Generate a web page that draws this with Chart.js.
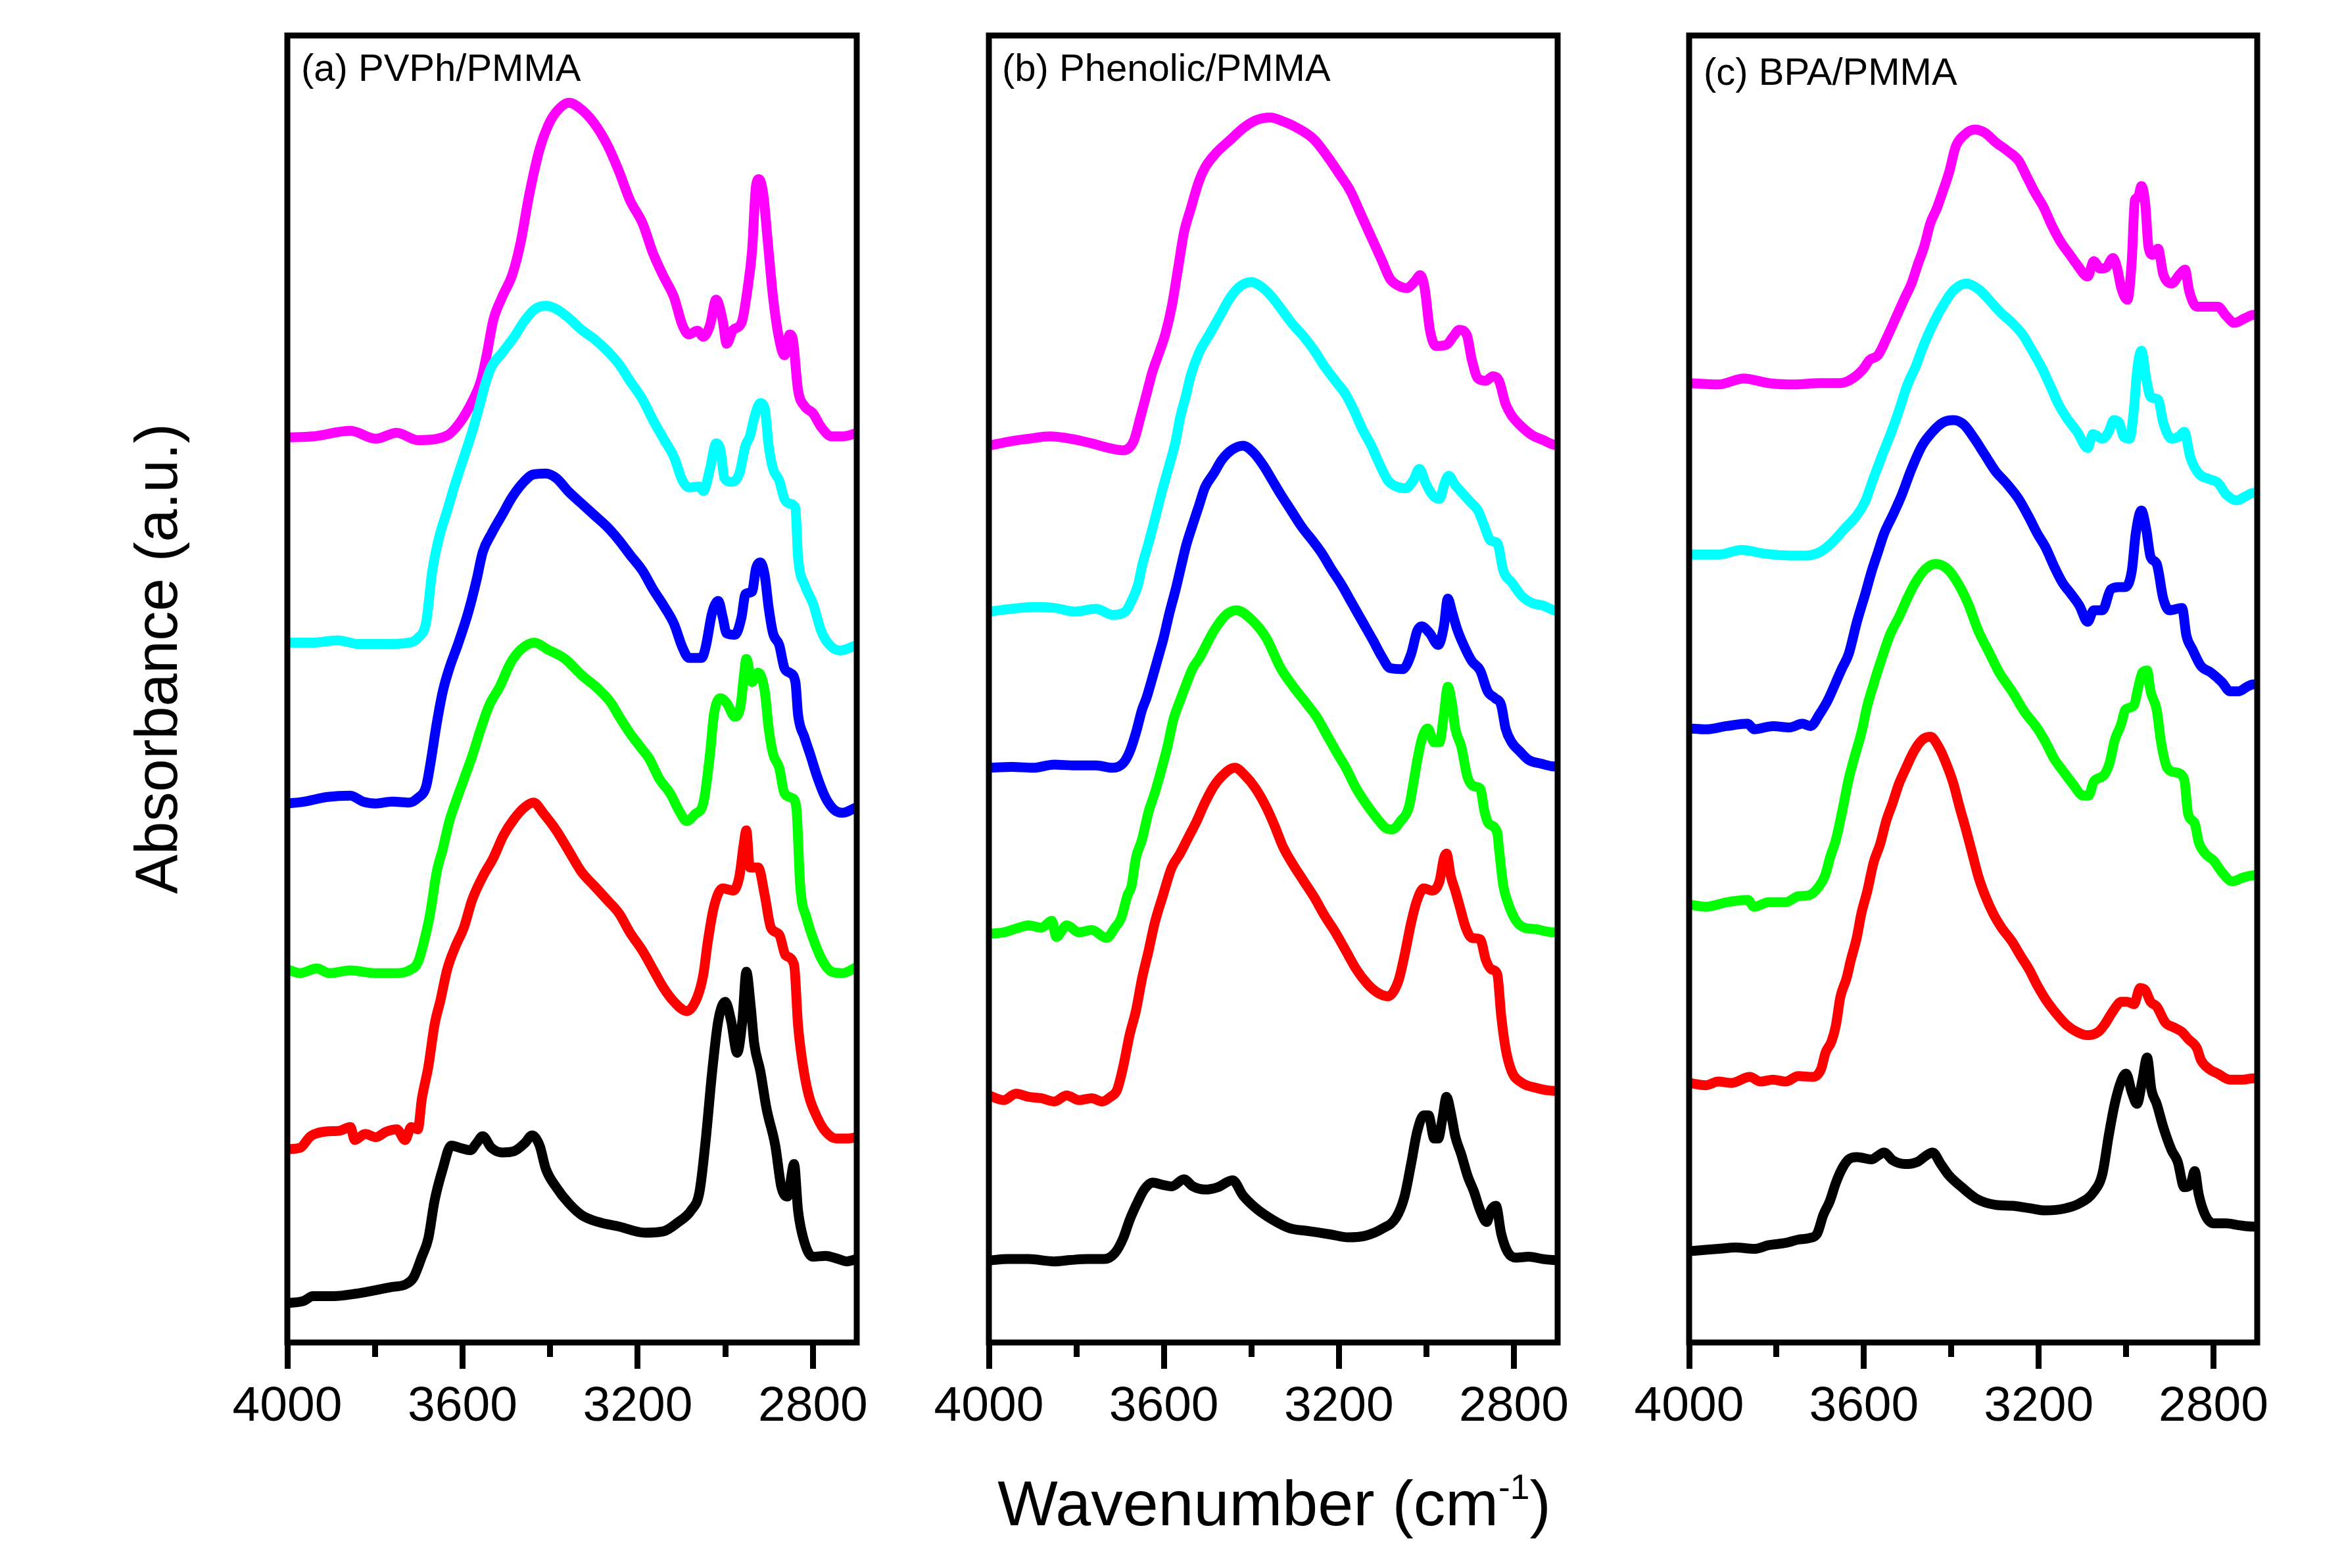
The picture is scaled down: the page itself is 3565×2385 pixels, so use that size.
<!DOCTYPE html>
<html>
<head>
<meta charset="utf-8">
<title>FTIR spectra</title>
<script src="https://cdn.jsdelivr.net/npm/chart.js@4.4.1/dist/chart.umd.min.js"></script>
<style>
  body { margin: 0; background: #fff; width: 3565px; height: 2385px; position: relative; overflow: hidden;
         font-family: 'Liberation Sans', Arial, sans-serif; color: #000; }
  .panel { position: absolute; }
  .plabel { position: absolute; font-size: 58px; line-height: 1; white-space: nowrap; }
  #ytitle { position: absolute; left: 238px; top: 1002px; font-size: 90px; line-height: 1; white-space: nowrap;
            transform: translate(-50%, -50%) rotate(-90deg); }
  #xtitle { position: absolute; left: 1938px; top: 2238px; font-size: 97px; line-height: 1; white-space: nowrap;
            transform: translateX(-50%); }
  #xtitle sup { font-size: 55%; vertical-align: 0.75em; line-height: 0; }
</style>
</head>
<body>
<div class="panel" style="left:327px;top:44px;width:1086px;height:2198px"><canvas id="chartA"></canvas></div>
<div class="panel" style="left:1394px;top:44px;width:1085px;height:2198px"><canvas id="chartB"></canvas></div>
<div class="panel" style="left:2459px;top:44px;width:1084px;height:2198px"><canvas id="chartC"></canvas></div>
<div class="plabel" id="labelA" style="left:458px;top:74px"></div>
<div class="plabel" id="labelB" style="left:1524px;top:74px"></div>
<div class="plabel" id="labelC" style="left:2591px;top:80px"></div>
<div id="ytitle">Absorbance (a.u.)</div>
<div id="xtitle">Wavenumber (cm<sup>-1</sup>)</div>
<script>
// x axis ticks (cm-1)
const tickValues = [4000, 3800, 3600, 3400, 3200, 3000, 2800];
const labeledTicks = [4000, 3600, 3200, 2800];
const panelTitles = ['(a) PVPh/PMMA', '(b) Phenolic/PMMA', '(c) BPA/PMMA'];
// bottom to top: black, red, green, blue, cyan, magenta
const seriesColors = ['#000000', '#ff0000', '#00ff00', '#0000ff', '#00ffff', '#ff00ff'];

// (a) PVPh/PMMA  [wavenumber, absorbance (offset, a.u.)]
const pvphBlack = [[4000,85],[3962,90],[3942,100],[3894,100],[3846,105],[3798,113],[3760,120],[3731,125],[3712,140],[3693,185],[3678,225],[3664,305],[3645,375],[3626,425],[3606,420],[3582,415],[3568,430],[3554,445],[3534,420],[3510,410],[3482,413],[3458,430],[3441,447],[3424,425],[3410,375],[3386,335],[3357,300],[3328,275],[3290,260],[3242,250],[3184,237],[3141,240],[3107,260],[3078,285],[3059,325],[3045,435],[3030,585],[3016,695],[3000,735],[2987,695],[2973,625],[2961,695],[2952,800],[2942,725],[2934,645],[2920,585],[2906,505],[2886,425],[2872,335],[2858,315],[2843,385],[2834,285],[2819,215],[2800,185],[2771,187],[2742,180],[2723,175],[2700,180]];
const pvphRed = [[4000,417],[3971,420],[3947,445],[3914,455],[3880,457],[3856,465],[3846,437],[3822,450],[3798,443],[3774,455],[3750,460],[3731,437],[3717,465],[3702,460],[3693,525],[3678,595],[3664,685],[3650,740],[3635,805],[3616,855],[3597,895],[3578,955],[3554,1005],[3530,1045],[3506,1095],[3482,1130],[3458,1155],[3438,1165],[3414,1140],[3386,1105],[3357,1060],[3328,1015],[3299,985],[3270,955],[3242,925],[3218,885],[3189,845],[3165,805],[3141,765],[3117,735],[3088,715],[3064,745],[3050,795],[3040,865],[3026,940],[3006,980],[2982,975],[2968,1005],[2958,1075],[2952,1105],[2944,1025],[2925,1025],[2910,965],[2896,895],[2877,880],[2862,835],[2843,815],[2834,685],[2824,605],[2810,535],[2790,485],[2771,455],[2747,440],[2723,440],[2700,443]];
const pvphGreen = [[4000,805],[3971,797],[3933,807],[3904,797],[3856,803],[3798,797],[3750,797],[3722,803],[3702,820],[3688,865],[3674,925],[3659,1015],[3645,1065],[3630,1125],[3616,1165],[3597,1215],[3578,1265],[3558,1325],[3539,1375],[3515,1415],[3491,1465],[3467,1495],[3436,1510],[3405,1495],[3366,1475],[3328,1440],[3290,1410],[3261,1380],[3242,1350],[3218,1315],[3194,1285],[3174,1260],[3150,1215],[3126,1185],[3107,1150],[3088,1125],[3069,1140],[3050,1165],[3035,1270],[3026,1355],[3011,1390],[2997,1380],[2978,1350],[2965,1375],[2958,1435],[2952,1475],[2939,1425],[2925,1445],[2910,1405],[2901,1325],[2891,1270],[2877,1240],[2865,1185],[2848,1175],[2838,1155],[2829,985],[2814,915],[2795,860],[2776,820],[2757,800],[2733,797],[2700,810]];
const pvphBlue = [[4000,1163],[3962,1167],[3909,1177],[3856,1180],[3827,1167],[3798,1163],[3760,1167],[3722,1165],[3702,1175],[3683,1200],[3674,1245],[3659,1335],[3645,1405],[3630,1455],[3611,1505],[3587,1575],[3568,1645],[3554,1705],[3534,1745],[3510,1785],[3486,1825],[3462,1855],[3438,1873],[3410,1875],[3386,1865],[3357,1835],[3328,1810],[3299,1785],[3270,1760],[3242,1730],[3218,1700],[3189,1665],[3165,1625],[3141,1590],[3117,1550],[3098,1500],[3083,1477],[3054,1477],[3045,1500],[3030,1575],[3016,1600],[3006,1565],[2997,1530],[2978,1527],[2963,1565],[2954,1615],[2939,1620],[2930,1670],[2920,1683],[2910,1655],[2901,1585],[2891,1530],[2877,1505],[2865,1455],[2853,1445],[2840,1425],[2834,1355],[2819,1305],[2805,1265],[2790,1220],[2771,1175],[2752,1150],[2733,1143],[2700,1155]];
const pvphCyan = [[4000,1510],[3942,1510],[3885,1515],[3837,1507],[3779,1507],[3722,1510],[3702,1520],[3683,1555],[3669,1665],[3654,1735],[3635,1795],[3616,1855],[3597,1910],[3578,1965],[3563,2015],[3549,2065],[3534,2105],[3510,2135],[3482,2170],[3458,2205],[3434,2230],[3410,2237],[3386,2230],[3357,2210],[3328,2185],[3299,2165],[3270,2140],[3242,2110],[3218,2075],[3189,2035],[3165,1990],[3141,1950],[3117,1910],[3098,1860],[3083,1845],[3059,1847],[3050,1837],[3035,1885],[3021,1940],[3011,1925],[3002,1865],[2987,1857],[2968,1875],[2954,1935],[2944,1955],[2934,1995],[2920,2027],[2910,2015],[2901,1935],[2891,1885],[2877,1860],[2865,1820],[2853,1810],[2840,1800],[2834,1695],[2819,1635],[2800,1595],[2781,1535],[2762,1505],[2738,1493],[2700,1505]];
const pvphMagenta = [[4000,1953],[3942,1955],[3856,1967],[3798,1950],[3750,1963],[3702,1947],[3635,1957],[3606,1985],[3578,2030],[3558,2075],[3544,2135],[3530,2205],[3510,2255],[3486,2305],[3467,2375],[3448,2475],[3424,2575],[3405,2625],[3386,2655],[3357,2675],[3328,2660],[3299,2630],[3270,2585],[3242,2525],[3218,2465],[3189,2415],[3165,2350],[3141,2300],[3117,2255],[3098,2195],[3083,2175],[3064,2183],[3050,2170],[3035,2195],[3021,2250],[3006,2205],[2997,2155],[2982,2185],[2963,2200],[2949,2275],[2939,2355],[2930,2495],[2923,2510],[2913,2475],[2904,2385],[2891,2255],[2877,2165],[2865,2130],[2853,2175],[2846,2165],[2834,2055],[2819,2020],[2800,2005],[2781,1975],[2757,1955],[2733,1955],[2700,1962]];

// (b) Phenolic/PMMA
const phenolicBlack = [[4000,177],[3957,180],[3909,180],[3851,175],[3813,178],[3774,180],[3736,180],[3712,193],[3693,225],[3678,265],[3659,305],[3645,330],[3626,345],[3602,340],[3582,337],[3554,352],[3534,337],[3506,330],[3477,335],[3443,350],[3419,317],[3390,290],[3352,265],[3314,247],[3266,240],[3218,233],[3179,227],[3141,230],[3102,245],[3069,270],[3050,315],[3035,385],[3021,455],[3006,490],[2995,490],[2982,440],[2973,440],[2963,485],[2954,530],[2944,495],[2934,445],[2920,405],[2906,360],[2891,325],[2877,285],[2862,260],[2853,285],[2841,295],[2829,235],[2814,195],[2795,183],[2766,185],[2733,180],[2700,177]];
const phenolicRed = [[4000,533],[3966,523],[3938,537],[3909,530],[3880,527],[3851,520],[3822,533],[3794,523],[3765,527],[3741,520],[3722,530],[3707,545],[3693,595],[3678,665],[3664,715],[3650,785],[3635,845],[3621,905],[3602,965],[3582,1025],[3563,1055],[3544,1090],[3525,1125],[3506,1165],[3486,1200],[3462,1227],[3438,1240],[3414,1223],[3390,1195],[3366,1155],[3347,1115],[3328,1070],[3304,1030],[3280,995],[3256,960],[3232,920],[3208,885],[3184,845],[3160,805],[3136,775],[3112,755],[3088,747],[3064,780],[3050,835],[3035,905],[3021,955],[3006,980],[2987,975],[2970,995],[2960,1045],[2954,1055],[2944,1005],[2934,975],[2925,945],[2910,895],[2896,873],[2877,870],[2864,825],[2851,805],[2838,795],[2829,705],[2819,635],[2805,585],[2781,560],[2752,550],[2709,543],[2700,543]];
const phenolicGreen = [[4000,882],[3966,885],[3938,893],[3909,900],[3880,895],[3856,910],[3846,875],[3822,900],[3794,885],[3765,890],[3731,873],[3712,895],[3698,915],[3683,965],[3674,985],[3664,1045],[3650,1085],[3635,1145],[3621,1185],[3606,1235],[3592,1285],[3578,1345],[3563,1385],[3549,1420],[3534,1455],[3520,1475],[3486,1535],[3458,1570],[3434,1580],[3400,1560],[3366,1520],[3333,1455],[3304,1415],[3275,1380],[3251,1350],[3227,1310],[3203,1270],[3184,1240],[3160,1195],[3136,1160],[3112,1130],[3093,1110],[3078,1107],[3059,1125],[3040,1155],[3030,1205],[3021,1255],[3011,1300],[2997,1325],[2982,1295],[2970,1295],[2960,1355],[2951,1415],[2941,1375],[2934,1325],[2920,1285],[2906,1220],[2891,1200],[2877,1195],[2867,1145],[2858,1120],[2838,1100],[2834,1065],[2824,985],[2814,950],[2795,910],[2776,895],[2752,892],[2709,885],[2700,885]];
const phenolicBlue = [[4000,1240],[3947,1242],[3899,1240],[3851,1247],[3803,1245],[3755,1245],[3717,1240],[3693,1250],[3678,1275],[3664,1315],[3650,1365],[3640,1390],[3626,1435],[3611,1485],[3602,1515],[3587,1575],[3573,1625],[3563,1665],[3549,1720],[3534,1765],[3520,1805],[3506,1845],[3486,1875],[3467,1905],[3443,1927],[3419,1935],[3395,1920],[3371,1890],[3352,1860],[3333,1830],[3309,1795],[3285,1760],[3256,1725],[3237,1700],[3218,1670],[3194,1635],[3170,1595],[3146,1555],[3122,1515],[3102,1480],[3083,1455],[3054,1453],[3035,1485],[3021,1535],[3011,1545],[2992,1530],[2973,1505],[2960,1545],[2951,1605],[2941,1575],[2930,1540],[2915,1505],[2896,1470],[2877,1450],[2860,1405],[2843,1390],[2829,1375],[2819,1325],[2805,1295],[2786,1275],[2766,1257],[2738,1249],[2709,1243],[2700,1243]];
const phenolicCyan = [[4000,1577],[3947,1583],[3899,1587],[3851,1585],[3803,1577],[3755,1583],[3717,1570],[3688,1577],[3674,1600],[3659,1635],[3650,1675],[3635,1725],[3621,1775],[3602,1845],[3587,1895],[3573,1945],[3563,1995],[3549,2045],[3539,2085],[3520,2135],[3496,2175],[3472,2215],[3448,2255],[3424,2280],[3400,2288],[3376,2277],[3352,2255],[3328,2225],[3304,2195],[3280,2170],[3256,2140],[3232,2105],[3208,2075],[3184,2045],[3165,2010],[3146,1970],[3126,1935],[3107,1895],[3088,1860],[3069,1847],[3047,1843],[3030,1860],[3016,1885],[3002,1855],[2987,1830],[2970,1820],[2958,1855],[2949,1870],[2934,1850],[2920,1835],[2901,1815],[2882,1795],[2867,1760],[2853,1730],[2838,1725],[2824,1665],[2805,1640],[2781,1610],[2757,1595],[2733,1590],[2709,1580],[2700,1578]];
const phenolicMagenta = [[4000,1935],[3947,1945],[3909,1950],[3861,1955],[3813,1950],[3765,1940],[3726,1930],[3693,1925],[3669,1945],[3654,1995],[3640,2045],[3626,2095],[3611,2135],[3597,2175],[3582,2235],[3568,2315],[3554,2395],[3539,2445],[3520,2505],[3506,2535],[3482,2565],[3448,2595],[3419,2620],[3390,2637],[3357,2643],[3323,2633],[3294,2620],[3256,2595],[3227,2560],[3198,2520],[3174,2485],[3150,2435],[3126,2385],[3102,2335],[3083,2295],[3069,2283],[3045,2275],[3026,2290],[3014,2303],[3004,2275],[2992,2185],[2978,2150],[2954,2153],[2939,2170],[2925,2185],[2908,2175],[2896,2120],[2882,2080],[2864,2075],[2848,2085],[2834,2075],[2819,2025],[2805,2000],[2781,1975],[2757,1957],[2733,1947],[2709,1937],[2700,1935]];

// (c) BPA/PMMA
const bpaBlack = [[4000,197],[3962,200],[3933,202],[3894,205],[3851,202],[3818,210],[3779,215],[3750,222],[3726,225],[3707,235],[3693,275],[3678,305],[3664,345],[3650,375],[3635,395],[3616,400],[3582,395],[3568,403],[3554,410],[3534,393],[3506,385],[3477,390],[3458,403],[3443,410],[3424,385],[3405,360],[3376,335],[3342,310],[3299,297],[3261,295],[3222,290],[3184,285],[3141,289],[3107,300],[3074,325],[3054,365],[3040,445],[3026,515],[3011,565],[3000,580],[2987,540],[2975,515],[2963,565],[2952,615],[2942,545],[2930,515],[2915,465],[2896,415],[2882,390],[2867,335],[2853,340],[2843,370],[2834,320],[2819,275],[2800,257],[2771,257],[2742,253],[2709,250],[2700,250]];
const bpaRed = [[4000,560],[3962,555],[3933,563],[3904,560],[3861,573],[3837,563],[3808,567],[3779,563],[3750,575],[3717,573],[3698,590],[3688,625],[3674,650],[3664,685],[3654,745],[3640,785],[3630,825],[3616,875],[3606,925],[3592,975],[3578,1035],[3563,1075],[3549,1125],[3534,1165],[3520,1205],[3506,1235],[3486,1275],[3467,1300],[3448,1307],[3429,1285],[3410,1245],[3395,1205],[3381,1155],[3366,1105],[3352,1055],[3338,1005],[3323,965],[3304,925],[3285,895],[3261,865],[3242,835],[3222,805],[3203,770],[3184,740],[3160,710],[3136,685],[3112,670],[3088,663],[3064,670],[3050,685],[3030,715],[3011,735],[2997,735],[2982,730],[2968,765],[2956,760],[2944,735],[2930,725],[2910,690],[2891,680],[2872,670],[2858,655],[2838,635],[2829,610],[2810,590],[2790,580],[2762,567],[2733,567],[2709,570],[2700,570]];
const bpaGreen = [[4000,945],[3962,940],[3914,950],[3866,955],[3851,940],[3818,950],[3779,950],[3750,963],[3726,965],[3702,985],[3688,1010],[3678,1045],[3664,1085],[3650,1145],[3635,1215],[3621,1265],[3606,1315],[3592,1375],[3578,1420],[3563,1465],[3539,1530],[3520,1565],[3501,1605],[3482,1640],[3458,1670],[3436,1680],[3410,1670],[3386,1640],[3362,1595],[3338,1535],[3314,1490],[3290,1445],[3261,1405],[3232,1360],[3203,1325],[3184,1295],[3165,1260],[3146,1235],[3122,1205],[3098,1180],[3086,1180],[3074,1210],[3050,1225],[3038,1250],[3026,1300],[3011,1335],[3002,1365],[2982,1375],[2973,1410],[2963,1445],[2952,1450],[2944,1405],[2930,1365],[2920,1295],[2906,1240],[2886,1230],[2867,1215],[2858,1140],[2843,1120],[2834,1080],[2819,1055],[2800,1040],[2781,1015],[2757,995],[2733,1003],[2709,1008],[2700,1008]];
const bpaBlue = [[4000,1325],[3962,1323],[3914,1330],[3866,1335],[3851,1323],[3808,1330],[3770,1327],[3741,1335],[3722,1330],[3702,1355],[3683,1385],[3664,1425],[3650,1455],[3635,1485],[3616,1555],[3597,1615],[3582,1665],[3568,1705],[3554,1745],[3534,1785],[3515,1825],[3491,1885],[3467,1935],[3443,1965],[3419,1985],[3395,1990],[3371,1980],[3347,1950],[3323,1915],[3299,1880],[3275,1855],[3246,1820],[3222,1780],[3203,1745],[3184,1715],[3165,1675],[3146,1640],[3126,1615],[3107,1590],[3088,1555],[3074,1580],[3054,1580],[3035,1625],[3016,1630],[3002,1630],[2987,1665],[2978,1745],[2965,1795],[2954,1755],[2944,1695],[2930,1680],[2915,1605],[2901,1580],[2872,1585],[2862,1525],[2848,1495],[2829,1460],[2805,1445],[2781,1425],[2762,1405],[2742,1405],[2723,1415],[2709,1420],[2700,1420]];
const bpaCyan = [[4000,1700],[3933,1700],[3880,1710],[3827,1702],[3770,1698],[3731,1698],[3702,1705],[3674,1725],[3645,1755],[3616,1785],[3597,1815],[3578,1865],[3558,1915],[3539,1960],[3520,2010],[3501,2065],[3482,2105],[3462,2155],[3438,2205],[3414,2245],[3395,2270],[3366,2285],[3338,2273],[3314,2250],[3290,2225],[3261,2200],[3237,2175],[3218,2145],[3194,2105],[3174,2065],[3155,2025],[3136,1995],[3112,1965],[3088,1930],[3076,1960],[3054,1950],[3040,1965],[3028,1990],[3016,1985],[3006,1955],[2992,1950],[2982,2015],[2975,2095],[2965,2140],[2954,2080],[2944,2040],[2927,2035],[2915,1985],[2896,1950],[2879,1955],[2867,1965],[2853,1910],[2834,1875],[2810,1863],[2790,1855],[2771,1830],[2747,1817],[2728,1825],[2709,1833],[2700,1833]];
const bpaMagenta = [[4000,2070],[3933,2067],[3875,2080],[3818,2070],[3760,2067],[3702,2070],[3654,2070],[3626,2080],[3602,2100],[3587,2120],[3568,2130],[3549,2165],[3525,2215],[3506,2255],[3491,2285],[3477,2325],[3462,2365],[3448,2415],[3434,2445],[3419,2485],[3405,2525],[3390,2580],[3371,2605],[3347,2617],[3323,2610],[3299,2590],[3270,2570],[3246,2550],[3227,2515],[3208,2480],[3189,2450],[3170,2410],[3150,2375],[3131,2350],[3112,2325],[3088,2300],[3074,2333],[3059,2317],[3045,2320],[3030,2340],[3021,2320],[3011,2275],[2997,2250],[2987,2335],[2980,2465],[2973,2470],[2965,2495],[2956,2455],[2949,2365],[2939,2347],[2927,2360],[2915,2305],[2896,2285],[2877,2305],[2865,2315],[2856,2270],[2838,2235],[2814,2235],[2790,2235],[2771,2215],[2752,2200],[2728,2210],[2709,2217],[2700,2217]];

const FONT = "'Liberation Sans', Arial, sans-serif";

// box around each plot area
const framePlugin = {
  id: 'frame',
  afterDraw(chart) {
    const { ctx, chartArea: a } = chart;
    ctx.save();
    ctx.strokeStyle = '#000';
    ctx.lineWidth = 9;
    ctx.strokeRect(a.left, a.top, a.right - a.left, a.bottom - a.top);
    ctx.restore();
  }
};

function makePanel(id, series) {
  return new Chart(document.getElementById(id), {
    type: 'line',
    data: {
      datasets: series.map((s, i) => ({
        data: s.map(p => ({ x: p[0], y: p[1] })),
        borderColor: seriesColors[i],
        borderWidth: 15,
        pointRadius: 0,
        fill: false,
        cubicInterpolationMode: 'monotone',
        borderJoinStyle: 'round',
        borderCapStyle: 'round'
      }))
    },
    options: {
      responsive: true,
      maintainAspectRatio: false,
      animation: false,
      devicePixelRatio: 1,
      events: [],
      layout: { padding: { left: 110, right: 110, top: 10, bottom: 0 } },
      plugins: { legend: { display: false }, tooltip: { enabled: false }, title: { display: false } },
      scales: {
        x: {
          type: 'linear',
          position: 'bottom',
          reverse: true,
          min: 2700,
          max: 4000,
          afterBuildTicks: axis => { axis.ticks = tickValues.map(v => ({ value: v })); },
          afterFit: axis => { axis.height = 200; },
          border: { display: false },
          grid: {
            drawOnChartArea: false,
            drawTicks: true,
            tickLength: 40,
            tickWidth: 9,
            tickColor: '#000',
            tickBorderDash: ctx => (ctx.tick && !labeledTicks.includes(ctx.tick.value)) ? [22, 400] : []
          },
          ticks: {
            autoSkip: false,
            maxRotation: 0,
            minRotation: 0,
            padding: 13,
            color: '#000',
            font: { family: FONT, size: 75 },
            callback: v => labeledTicks.includes(v) ? String(v) : ''
          }
        },
        y: { type: 'linear', min: 0, max: 2820, display: false }
      }
    },
    plugins: [framePlugin]
  });
}

document.getElementById('labelA').textContent = panelTitles[0];
document.getElementById('labelB').textContent = panelTitles[1];
document.getElementById('labelC').textContent = panelTitles[2];

makePanel('chartA', [pvphBlack, pvphRed, pvphGreen, pvphBlue, pvphCyan, pvphMagenta]);
makePanel('chartB', [phenolicBlack, phenolicRed, phenolicGreen, phenolicBlue, phenolicCyan, phenolicMagenta]);
makePanel('chartC', [bpaBlack, bpaRed, bpaGreen, bpaBlue, bpaCyan, bpaMagenta]);
</script>
</body>
</html>
